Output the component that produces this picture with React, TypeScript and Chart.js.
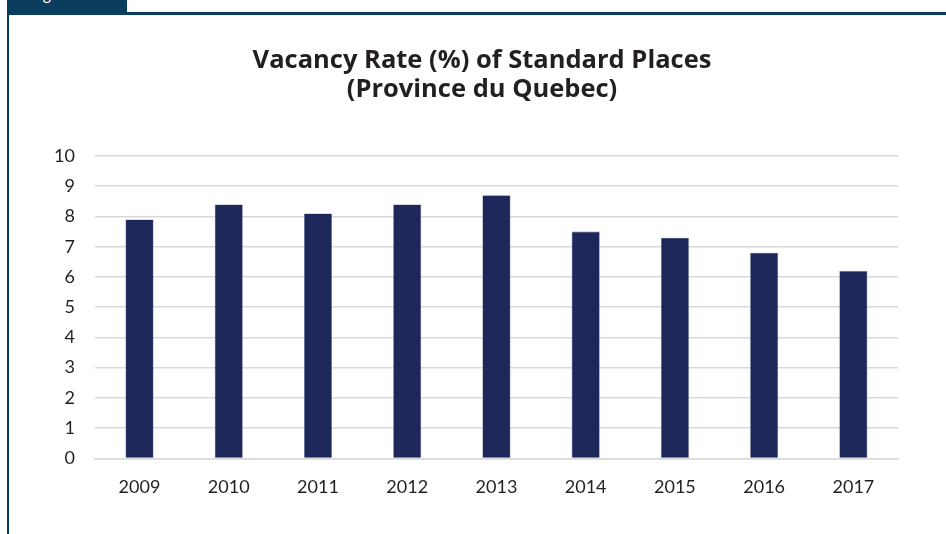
import React, { useEffect, useRef } from "react";
import { Chart, registerables } from "chart.js";

Chart.register(...registerables);

const years = ["2009", "2010", "2011", "2012", "2013", "2014", "2015", "2016", "2017"];
const vacancyRate = [7.9, 8.4, 8.1, 8.4, 8.7, 7.5, 7.3, 6.8, 6.2];
const titleLines = ["Vacancy Rate (%) of Standard Places", "(Province du Quebec)"];
const tabLabel = "Figure 1";

const FRAME = "#0b3d5e";
const BAR = "#1e2759";
const FONT = "Lato, 'Open Sans', sans-serif";
const TITLE_FONT = "'Open Sans', Lato, sans-serif";

export default function App() {
  const ref = useRef<HTMLCanvasElement | null>(null);

  useEffect(() => {
    if (!ref.current) return;
    const chart = new Chart(ref.current, {
      type: "bar",
      data: {
        labels: years,
        datasets: [
          {
            data: vacancyRate,
            backgroundColor: BAR,
            borderColor: "#6f7699",
            borderWidth: 0.6,
            barPercentage: 1,
            categoryPercentage: 0.315,
          },
        ],
      },
      options: {
        responsive: false,
        animation: false,
        layout: { padding: { left: 24, right: 48, top: 141, bottom: 18 } },
        plugins: {
          legend: { display: false },
          tooltip: { enabled: false },
          title: { display: false },
        },
        scales: {
          x: {
            grid: { display: false, drawTicks: false },
            border: { display: true, color: "#d9d9d9", width: 1.5 },
            ticks: {
              color: "#231f20",
              font: { family: FONT, size: 18 },
              padding: 18,
              maxRotation: 0,
            },
          },
          y: {
            min: 0,
            max: 10,
            grid: { color: "#d9d9d9", lineWidth: 1.5, drawTicks: false },
            border: { display: false },
            ticks: {
              stepSize: 1,
              color: "#231f20",
              font: { family: FONT, size: 18 },
              padding: 20,
            },
          },
        },
      },
    });
    return () => chart.destroy();
  }, []);

  return (
    <div style={{ position: "fixed", left: 0, top: 0, width: 946, height: 534, background: "#fff", overflow: "hidden" }}>
      <div style={{ position: "absolute", left: 8, top: 0, width: 119, height: 13, background: FRAME, overflow: "hidden" }}>
        <span style={{ position: "absolute", left: 22, top: -15, color: "#fff", fontFamily: FONT, fontSize: 16, lineHeight: "18px", whiteSpace: "nowrap" }}>
          {tabLabel}
        </span>
      </div>
      <div style={{ position: "absolute", left: 8, top: 12, width: 938, height: 3, background: FRAME }} />
      <div style={{ position: "absolute", left: 7, top: 0, width: 2, height: 534, background: FRAME }} />
      <canvas ref={ref} width={936} height={519} style={{ position: "absolute", left: 10, top: 15, width: 936, height: 519 }} />
      <div
        style={{
          position: "absolute",
          left: 182,
          width: 600,
          top: 44,
          textAlign: "center",
          fontFamily: TITLE_FONT,
          fontWeight: 700,
          fontSize: 25.5,
          lineHeight: "28.5px",
          color: "#231f20",
          whiteSpace: "nowrap",
        }}
      >
        {titleLines.map((t) => (
          <div key={t}>{t}</div>
        ))}
      </div>
    </div>
  );
}
